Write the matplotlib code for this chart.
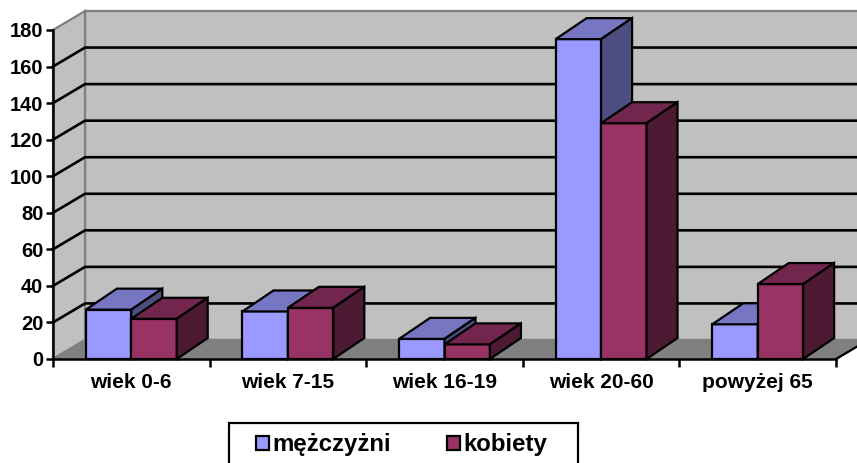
import matplotlib
matplotlib.use("Agg")
import matplotlib.pyplot as plt
from matplotlib.patches import Polygon, Patch, Rectangle

# data
categories = ["wiek 0-6", "wiek 7-15", "wiek 16-19", "wiek 20-60", "powyżej 65"]
men = [27, 26, 11, 175, 19]
women = [22, 28, 8, 129, 41]
series_names = ["mężczyżni", "kobiety"]

men_cols = ("#9999FF", "#7676C2", "#4D4D80")    # front, top, side
women_cols = ("#993366", "#73264D", "#4D1A33")

plt.rcParams["font.family"] = ["Liberation Sans", "DejaVu Sans"]
plt.rcParams["font.weight"] = "bold"

W, H = 857, 463
fig = plt.figure(figsize=(W / 100, H / 100), dpi=100)
ax = fig.add_axes([53 / W, (H - 359) / H, 783 / W, 329 / H])
ax.set_xlim(0, 5)
ax.set_ylim(0, 180)
ax.patch.set_visible(False)

# 3d depth offsets in data units (px / px-per-unit)
cat_px = 783 / 5
val_px = 329 / 180
DX, DY = 32 / cat_px, 19 / val_px      # walls
BX, BY = 31 / cat_px, 21 / val_px      # bars

def poly(pts, fc, ec="black", lw=1.6, z=1):
    ax.add_patch(Polygon(pts, closed=True, facecolor=fc, edgecolor=ec,
                         linewidth=lw, zorder=z, clip_on=False, joinstyle="miter"))

# walls and floor
poly([(DX, DY), (5 + DX, DY), (5 + DX, 180 + DY), (DX, 180 + DY)], "#C0C0C0", ec="#808080", z=0.5)
poly([(0, 0), (DX, DY), (DX, 180 + DY), (0, 180)], "#C0C0C0", ec="#808080", z=0.5)

for v in range(20, 180, 20):
    ax.plot([0, DX, 5 + DX], [v, v + DY, v + DY], color="black", lw=1.9,
            zorder=0.8, clip_on=False)

poly([(0, 0), (5, 0), (5 + DX, DY), (DX, DY)], "#808080", ec="#808080", z=0.9)
ax.plot([5, 5 + DX], [0, DY], color="black", lw=1.6, zorder=0.95, clip_on=False)

# bars
bw = 0.29
for i in range(len(categories)):
    for j, (vals, cols) in enumerate([(men, men_cols), (women, women_cols)]):
        x0 = i + 0.5 - bw + j * bw
        x1 = x0 + bw
        v = vals[i]
        z = 2 + i * 0.1 + j * 0.01
        poly([(x0, 0), (x1, 0), (x1, v), (x0, v)], cols[0], z=z)
        poly([(x0, v), (x1, v), (x1 + BX, v + BY), (x0 + BX, v + BY)], cols[1], z=z)
        poly([(x1, 0), (x1 + BX, BY), (x1 + BX, v + BY), (x1, v)], cols[2], z=z)

# axes
for s in ["top", "right"]:
    ax.spines[s].set_visible(False)
for s in ["left", "bottom"]:
    ax.spines[s].set_linewidth(1.8)
    ax.spines[s].set_zorder(3)
ax.set_yticks(range(0, 181, 20))
ax.set_xticks(range(6))
ax.set_xticklabels([])
ax.set_xticks([i + 0.5 for i in range(5)], minor=True)
ax.set_xticklabels(categories, minor=True)
ax.tick_params(axis="y", length=5, width=1.8, pad=2, labelsize=14.5)
ax.tick_params(axis="x", which="major", length=6, width=1.8)
ax.tick_params(axis="x", which="minor", length=0, pad=10, labelsize=15)

# legend: frame drawn separately so the box can be wider than the entries
fig.add_artist(Rectangle((229 / W, -0.02), (578 - 229) / W, 0.02 + 40 / H,
                         transform=fig.transFigure, facecolor="white",
                         edgecolor="black", lw=1.6, zorder=4))
handles = [Patch(facecolor=men_cols[0], edgecolor="black", lw=1.6),
           Patch(facecolor=women_cols[0], edgecolor="black", lw=1.6)]
leg = fig.legend(handles, series_names, loc="center left", bbox_to_anchor=(256 / W, 1 - 445 / H),
                 ncol=2, frameon=False, prop={"size": 17.3, "weight": "bold"},
                 handlelength=0.55, handleheight=0.55, handletextpad=0.15,
                 columnspacing=2.3, borderpad=0, borderaxespad=0)
leg.set_zorder(5)

fig.savefig("out.png", dpi=100)
